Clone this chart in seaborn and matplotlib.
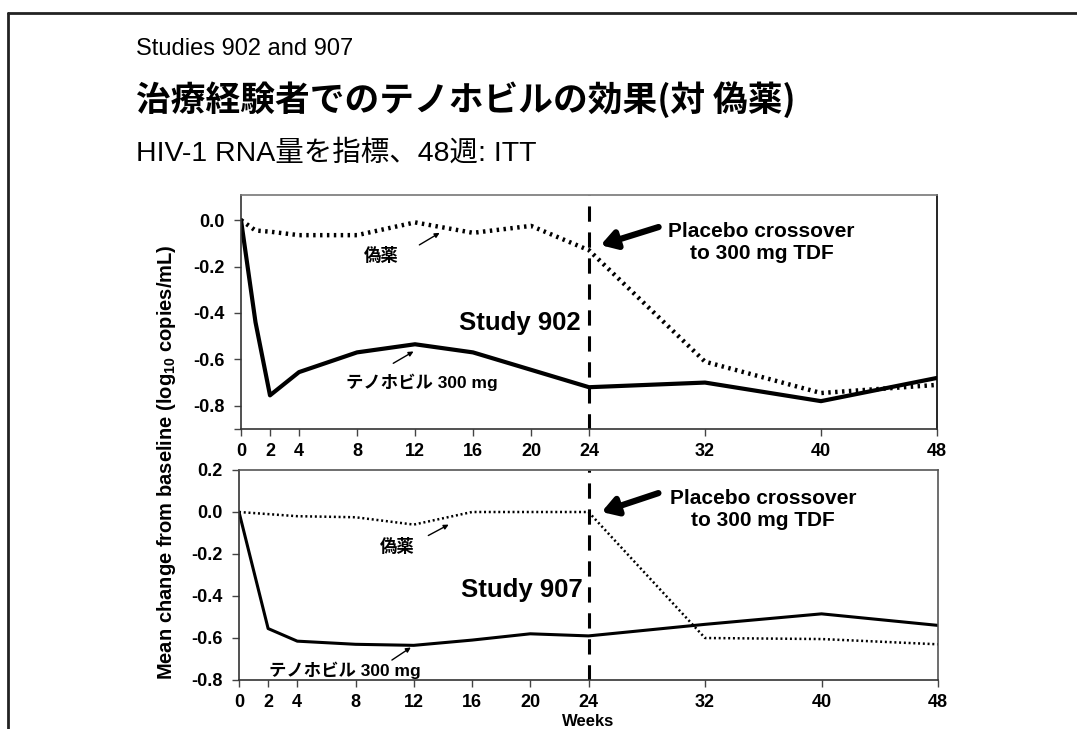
import matplotlib
matplotlib.use("Agg")
import matplotlib.pyplot as plt
from matplotlib.lines import Line2D
import numpy as np
import pandas as pd
import seaborn as sns

# ---- data: mean change in HIV-1 RNA (log10 copies/mL) ----
weeks_902 = [0, 1, 2, 4, 8, 12, 16, 20, 24, 32, 40, 48]
tdf_902 = [0.0, -0.44, -0.755, -0.655, -0.57, -0.535, -0.57, -0.645, -0.72, -0.70, -0.78, -0.68]
pbo_902 = [0.0, -0.045, -0.05, -0.065, -0.065, -0.01, -0.055, -0.025, -0.13, -0.61, -0.745, -0.71]

weeks_907 = [0, 2, 4, 8, 12, 16, 20, 24, 32, 40, 48]
tdf_907 = [0.0, -0.555, -0.615, -0.63, -0.635, -0.61, -0.58, -0.59, -0.535, -0.485, -0.54]
pbo_907 = [0.0, -0.01, -0.02, -0.025, -0.06, 0.0, 0.0, 0.0, -0.60, -0.605, -0.63]

week_ticks = [0, 2, 4, 8, 12, 16, 20, 24, 32, 40, 48]
yticks_902 = [0.0, -0.2, -0.4, -0.6, -0.8]
yticks_907 = [0.2, 0.0, -0.2, -0.4, -0.6, -0.8]
crossover_week = 24

sns.set_theme(style="white")
LAT = ["Liberation Sans", "Noto Sans CJK JP"]
plt.rcParams["font.family"] = LAT
plt.rcParams["mathtext.fontset"] = "custom"
plt.rcParams["mathtext.rm"] = "Liberation Sans:bold"
plt.rcParams["mathtext.it"] = "Liberation Sans:bold"
plt.rcParams["mathtext.bf"] = "Liberation Sans:bold"
plt.rcParams["mathtext.default"] = "rm"

W, H = 1077, 729
fig = plt.figure(figsize=(W / 100, H / 100), dpi=100)
fig.patch.set_facecolor("white")


def box(l, t, r, b):
    return [l / W, 1 - b / H, (r - l) / W, (b - t) / H]


ax1 = fig.add_axes(box(241, 195, 937, 429))
ax2 = fig.add_axes(box(239, 470, 938, 680))

df902 = pd.DataFrame({
    "week": weeks_902 * 2,
    "change": tdf_902 + pbo_902,
    "arm": ["TDF"] * len(weeks_902) + ["Placebo"] * len(weeks_902),
})
df907 = pd.DataFrame({
    "week": weeks_907 * 2,
    "change": tdf_907 + pbo_907,
    "arm": ["TDF"] * len(weeks_907) + ["Placebo"] * len(weeks_907),
})


def draw(ax, df, lw_tdf, lw_pbo, dots):
    sns.lineplot(data=df[df.arm == "TDF"], x="week", y="change", ax=ax,
                 color="black", lw=lw_tdf, legend=False, estimator=None)
    sns.lineplot(data=df[df.arm == "Placebo"], x="week", y="change", ax=ax,
                 color="black", lw=lw_pbo, legend=False, estimator=None,
                 dashes=False)
    ax.lines[-1].set_linestyle((0, dots))
    ax.lines[-1].set_dash_capstyle("butt")


draw(ax1, df902, 3.0, 3.2, (0.55, 1.0))
draw(ax2, df907, 2.2, 1.8, (0.8, 1.1))

for ax, yt, ylim in ((ax1, yticks_902, (-0.9, 0.108)), (ax2, yticks_907, (-0.8, 0.2))):
    ax.set_xlim(0, 48)
    ax.set_ylim(*ylim)
    ax.set_xticks(week_ticks)
    ax.set_xticklabels([str(w) for w in week_ticks], fontweight="bold", fontsize=13)
    ax.set_yticks(yt)
    ax.set_yticklabels([f"{v:.1f}" for v in yt], fontweight="bold", fontsize=13)
    ax.tick_params(axis="both", direction="out", length=5, width=1, color="#444444",
                   bottom=True, left=True, labelcolor="black")
    ax.tick_params(axis="x", pad=5)
    ax.tick_params(axis="y", pad=7)
    ax.set_xlabel("")
    ax.set_ylabel("")
    for s in ax.spines.values():
        s.set_visible(True)
        s.set_color("#555555")
        s.set_linewidth(1.2)
    ax.spines["left"].set_color("#333333")
    ax.spines["bottom"].set_color("#333333")
    ax.axvline(crossover_week, color="black", lw=2.2, ls=(0, (5, 3.5)), zorder=1)
    ax.set_facecolor("white")

ax1.set_yticks([-0.9], minor=True)
ax1.tick_params(axis="y", which="minor", length=5, width=1, color="#444444", left=True)
ax1.spines["top"].set_color("#777777")
ax1.spines["right"].set_color("black")

# annotations - study 902
small = dict(fontsize=12.5, fontweight="bold", family=LAT, color="black")
thin_arrow = dict(arrowstyle="-|>", color="black", lw=1.0, mutation_scale=7, shrinkA=0, shrinkB=0)
fat_arrow = dict(arrowstyle="-|>,head_length=0.9,head_width=0.55", color="black", lw=4.5,
                 mutation_scale=10, shrinkA=0, shrinkB=0)
crossover_text = dict(ha="center", va="center", fontsize=15, fontweight="bold",
                      linespacing=1.2, color="black")

ax1.text(9.7, -0.152, "偽薬", ha="center", va="center", **small)
ax1.annotate("", xy=(13.7, -0.055), xytext=(12.3, -0.107), arrowprops=thin_arrow)
ax1.text(12.5, -0.697, "テノホビル 300 mg", ha="center", va="center", **small)
ax1.annotate("", xy=(11.9, -0.566), xytext=(10.5, -0.617), arrowprops=thin_arrow)
ax1.text(19.2, -0.445, "Study 902", ha="center", va="center", fontsize=18.5,
         fontweight="bold", color="black")
ax1.text(35.9, -0.098, "Placebo crossover\nto 300 mg TDF", **crossover_text)
ax1.annotate("", xy=(24.8, -0.108), xytext=(28.8, -0.03), arrowprops=fat_arrow)

# annotations - study 907
ax2.text(10.85, -0.162, "偽薬", ha="center", va="center", **small)
ax2.annotate("", xy=(14.4, -0.06), xytext=(13.0, -0.112), arrowprops=thin_arrow)
ax2.text(7.3, -0.756, "テノホビル 300 mg", ha="center", va="center", **small)
ax2.annotate("", xy=(11.8, -0.645), xytext=(10.5, -0.705), arrowprops=thin_arrow)
ax2.text(19.4, -0.371, "Study 907", ha="center", va="center", fontsize=18.5,
         fontweight="bold", color="black")
ax2.text(36.0, 0.012, "Placebo crossover\nto 300 mg TDF", **crossover_text)
ax2.annotate("", xy=(24.9, 0.0), xytext=(28.8, 0.09), arrowprops=fat_arrow)

fig.text(588 / W, 1 - 721 / H, "Weeks", ha="center", va="center",
         fontsize=12, fontweight="bold", color="black")

fig.text(166 / W, 1 - 462 / H, "Mean change from baseline (log$_{10}$ copies/mL)",
         rotation=90, ha="center", va="center", fontsize=14.5, fontweight="bold",
         color="black")

# slide heading
HEAD_X = 136 / W
fig.text(HEAD_X, 1 - 49 / H, "Studies 902 and 907", ha="left", va="center",
         fontsize=17, color="black")
fig.text(HEAD_X, 1 - 100 / H, "治療経験者でのテノホビルの効果(対 偽薬)", ha="left",
         va="center", fontsize=25, fontweight="bold", color="black",
         family=["Noto Sans CJK JP", "Liberation Sans"])
fig.text(HEAD_X, 1 - 153 / H, "HIV-1 RNA量を指標、48週: ITT", ha="left", va="center",
         fontsize=20.5, color="black")

# slide frame (top and left edges)
fig.add_artist(Line2D([8 / W, 1.0], [1 - 13 / H, 1 - 13 / H], color="#222222", lw=2.0))
fig.add_artist(Line2D([8 / W, 8 / W], [0, 1 - 13 / H], color="#222222", lw=2.0))

fig.savefig("out.png", dpi=100, facecolor="white")
